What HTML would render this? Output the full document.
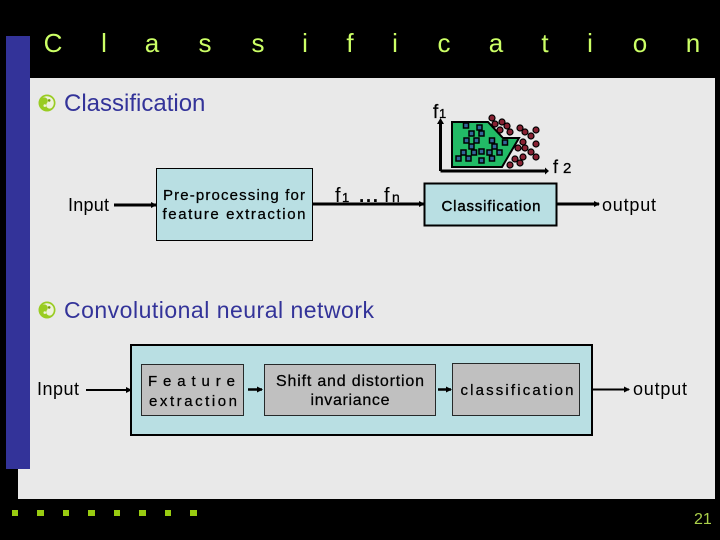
<!DOCTYPE html>
<html>
<head>
<meta charset="utf-8">
<style>
html,body{margin:0;padding:0;background:#000;width:720px;height:540px;overflow:hidden}
svg{display:block}
text{font-family:"Liberation Sans",sans-serif}
.t{font-size:26px;fill:#ccff66;text-anchor:middle}
.h{font-size:24px;fill:#333399}
.k{fill:#000;font-size:18px}
.b{fill:#000;font-size:15px;stroke:#000;stroke-width:.25}
</style>
</head>
<body>
<svg width="720" height="540" viewBox="0 0 720 540" xmlns="http://www.w3.org/2000/svg">
<defs>
<marker id="a" markerUnits="userSpaceOnUse" markerWidth="6" markerHeight="6" refX="5" refY="3" orient="auto"><path d="M0 0L6 3L0 6Z" fill="#000"/></marker>
<g id="yy">
<circle cx="0" cy="0" r="8.500" fill="#99cc22"/>
<path d="M0 -6.800A6.800 6.800 0 0 1 0 6.800A3.400 3.400 0 0 1 0 0A3.400 3.400 0 0 0 0 -6.800Z" fill="#eef2dc" transform="rotate(-50)"/>
<circle cx="2.200" cy="-2.600" r="1.300" fill="#779911"/>
<circle cx="-2.200" cy="2.600" r="1.300" fill="#eef2dc"/>
</g>
</defs>
<rect width="720" height="540" fill="#000"/>
<rect x="18" y="78" width="697" height="421" fill="#e9e9e9"/>
<rect x="6" y="36" width="24" height="433" fill="#333399"/>

<g class="title">
<text class="t" x="53" y="52">C</text><text class="t" x="104" y="52">l</text><text class="t" x="152" y="52">a</text><text class="t" x="205" y="52">s</text><text class="t" x="258" y="52">s</text><text class="t" x="305" y="52">i</text><text class="t" x="350" y="52">f</text><text class="t" x="395" y="52">i</text><text class="t" x="444" y="52">c</text><text class="t" x="496" y="52">a</text><text class="t" x="545" y="52">t</text><text class="t" x="590" y="52">i</text><text class="t" x="640" y="52">o</text><text class="t" x="693" y="52">n</text>
</g>

<!-- bullets -->
<use href="#yy" x="47" y="103"/>
<text class="h" x="64" y="111">Classification</text>
<use href="#yy" x="47" y="310"/>
<text class="h" x="64" y="318" style="font-size:23px" textLength="310">Convolutional neural network</text>

<!-- chart -->
<polygon points="452,122 488,122 503,138 519,138 502,167 452,167" fill="#22bb66" stroke="#000" stroke-width="2"/>
<g fill="#336699" stroke="#000" stroke-width="1.500">
<rect x="463.500" y="123" width="5" height="5"/><rect x="477" y="125" width="5" height="5"/><rect x="469" y="131" width="5" height="5"/><rect x="479" y="131" width="5" height="5"/><rect x="464" y="138" width="5" height="5"/><rect x="474" y="138" width="5" height="5"/><rect x="489.500" y="138" width="5" height="5"/><rect x="502.500" y="140" width="5" height="5"/><rect x="469" y="144" width="5" height="5"/><rect x="492" y="144" width="5" height="5"/><rect x="461" y="150" width="5" height="5"/><rect x="471.500" y="150" width="5" height="5"/><rect x="479" y="149" width="5" height="5"/><rect x="487" y="150" width="5" height="5"/><rect x="497" y="150" width="5" height="5"/><rect x="456" y="156" width="5" height="5"/><rect x="466" y="156" width="5" height="5"/><rect x="489.500" y="156" width="5" height="5"/><rect x="479" y="158" width="5" height="5"/>
</g>
<g fill="#882233" stroke="#000" stroke-width="1.200">
<circle cx="492" cy="118" r="3"/><circle cx="495" cy="124" r="3"/><circle cx="502" cy="122" r="3"/><circle cx="507" cy="126" r="3"/><circle cx="500" cy="130" r="3"/><circle cx="510" cy="132" r="3"/><circle cx="520" cy="128" r="3"/><circle cx="525" cy="132" r="3"/><circle cx="536" cy="130" r="3"/><circle cx="531" cy="136" r="3"/><circle cx="523" cy="142" r="3"/><circle cx="536" cy="144" r="3"/><circle cx="518" cy="148" r="3"/><circle cx="525" cy="148" r="3"/><circle cx="531" cy="152" r="3"/><circle cx="536" cy="157" r="3"/><circle cx="523" cy="157" r="3"/><circle cx="515" cy="159" r="3"/><circle cx="520" cy="163" r="3"/><circle cx="510" cy="165" r="3"/>
</g>
<path d="M440.500 171V124M440.500 171H545" fill="none" stroke="#000" stroke-width="3"/>
<path d="M437 124L440.500 118L444 124ZM545 167.500L549 171L545 174.500Z" fill="#000"/>
<text x="433" y="118" font-size="19" fill="#000" stroke="#000" stroke-width=".3">f</text>
<text x="439" y="118" font-size="13" fill="#000" stroke="#000" stroke-width=".3">1</text>
<text x="553" y="173" font-size="18" fill="#000" stroke="#000" stroke-width=".2">f</text>
<text x="563" y="173" font-size="15" fill="#000" stroke="#000" stroke-width=".3">2</text>

<!-- top row -->
<text class="k" x="68" y="211" textLength="41">Input</text>
<line x1="114" y1="205" x2="156" y2="205" stroke="#000" stroke-width="3" marker-end="url(#a)"/>
<rect x="156.500" y="168.500" width="156" height="72" fill="#b9dfe3" stroke="#000"/>
<text class="b" x="234" y="200" text-anchor="middle" textLength="142">Pre-processing for</text>
<text class="b" x="234" y="219" text-anchor="middle" textLength="143">feature extraction</text>
<line x1="312" y1="204" x2="424" y2="204" stroke="#000" stroke-width="3" marker-end="url(#a)"/>
<text x="335" y="202" font-size="20" fill="#000">f</text>
<text x="342" y="202" font-size="13" fill="#000" stroke="#000" stroke-width=".3">1</text>
<text x="359" y="202" font-size="19" font-weight="bold" fill="#000" textLength="19">...</text>
<text x="384" y="202" font-size="20" fill="#000">f</text>
<text x="392" y="202" font-size="14" fill="#000" stroke="#000" stroke-width=".3">n</text>
<rect x="424.500" y="183.500" width="132" height="42" fill="#b9dfe3" stroke="#000" stroke-width="2"/>
<text x="491" y="211" font-size="15" fill="#000" stroke="#000" stroke-width=".4" text-anchor="middle" textLength="99">Classification</text>
<line x1="557" y1="204" x2="599" y2="204" stroke="#000" stroke-width="3" marker-end="url(#a)"/>
<text class="k" x="602" y="211" textLength="54">output</text>

<!-- bottom row -->
<text class="k" x="37" y="395" textLength="42">Input</text>
<line x1="86" y1="390" x2="131" y2="390" stroke="#000" stroke-width="2" marker-end="url(#a)"/>
<rect x="131" y="345" width="461" height="90" fill="#b9dfe3" stroke="#000" stroke-width="2"/>
<rect x="141.500" y="364.500" width="102" height="51" fill="#c0c0c0" stroke="#000" stroke-width=".8"/>
<text class="b" x="148" y="386" textLength="87">F e a t u r e</text>
<text class="b" x="149" y="406" textLength="88">extraction</text>
<line x1="248" y1="389.500" x2="262" y2="389.500" stroke="#000" stroke-width="2.500" marker-end="url(#a)"/>
<rect x="264.500" y="364.500" width="171" height="51" fill="#c0c0c0" stroke="#000" stroke-width=".8"/>
<text class="b" x="350" y="386" text-anchor="middle" style="font-size:16px" textLength="148">Shift and distortion</text>
<text class="b" x="350" y="405" text-anchor="middle" style="font-size:16px" textLength="79">invariance</text>
<line x1="438" y1="389.500" x2="451" y2="389.500" stroke="#000" stroke-width="2.500" marker-end="url(#a)"/>
<rect x="452.500" y="363.500" width="127" height="52" fill="#c0c0c0" stroke="#000" stroke-width=".8"/>
<text class="b" x="517" y="395" text-anchor="middle" textLength="113">classification</text>
<line x1="592" y1="389.500" x2="629" y2="389.500" stroke="#000" stroke-width="2" marker-end="url(#a)"/>
<text class="k" x="633" y="395" textLength="54">output</text>

<!-- footer -->
<g fill="#99cc11">
<rect x="12" y="510" width="6" height="6"/><rect x="37" y="510" width="7" height="6"/><rect x="63" y="510" width="6" height="6"/><rect x="88" y="510" width="7" height="6"/><rect x="114" y="510" width="6" height="6"/><rect x="139" y="510" width="7" height="6"/><rect x="165" y="510" width="6" height="6"/><rect x="190" y="510" width="7" height="6"/>
</g>
<text x="694" y="524" font-size="16" fill="#aad04a">21</text>
</svg>
</body>
</html>
